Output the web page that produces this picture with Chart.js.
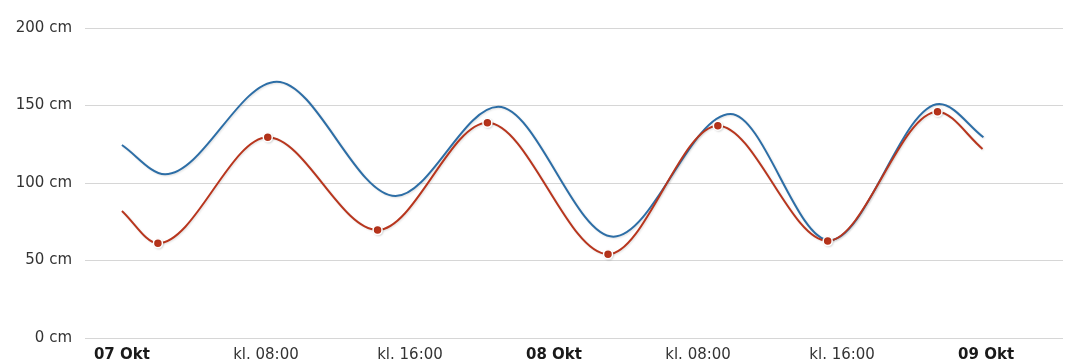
<!DOCTYPE html>
<html>
<head>
    <title>Vannstand</title>
    <script src="https://cdn.jsdelivr.net/npm/chart.js"></script>
    <style>
        html, body {
            margin: 0;
            padding: 0;
            background-color: #ffffff;
        }

        .chart-box {
            width: 1069px;
            height: 363px;
        }
    </style>
</head>
<body>
    <div class="chart-box">
        <canvas id="tideChart"></canvas>
    </div>

    <script>
        // hours counted from 07 Okt 00:00
        const tickHours = [0, 8, 16, 24, 32, 40, 48];
        const tickLabels = ['07 Okt', 'kl. 08:00', 'kl. 16:00', '08 Okt', 'kl. 08:00', 'kl. 16:00', '09 Okt'];
        const dayTicks = [0, 24, 48];

        // forecast (blue)
        const forecastHours = [0, 2.4, 8.6, 15.2, 20.9, 27.3, 33.8, 39.3, 45.4, 47.85];
        const forecastValues = [124.5, 105.6, 165.4, 91.6, 149.2, 65.4, 144.5, 63, 151, 129.5];

        // astronomical tide (red)
        const tideHours = [0, 2.0, 8.1, 14.2, 20.3, 27.0, 33.1, 39.2, 45.3, 47.8];
        const tideValues = [82, 61.1, 129.5, 69.7, 138.9, 54, 137, 62.6, 146, 122];

        // high / low water marks
        const extremeHours = [2.0, 8.1, 14.2, 20.3, 27.0, 33.1, 39.2, 45.3];
        const extremeValues = [61.1, 129.5, 69.7, 138.9, 54, 137, 62.6, 146];

        const toPoints = (xs, ys) => xs.map((x, i) => ({ x: x, y: ys[i] }));

        // soft drop shadow under the lines, like the original
        const lineShadow = {
            id: 'lineShadow',
            beforeDatasetDraw(chart) {
                const ctx = chart.ctx;
                ctx.save();
                ctx.shadowColor = 'rgba(0, 0, 0, 0.12)';
                ctx.shadowBlur = 2;
                ctx.shadowOffsetX = 1;
                ctx.shadowOffsetY = 1;
            },
            afterDatasetDraw(chart) {
                chart.ctx.restore();
            }
        };

        const fontFamily = '"DejaVu Sans", Verdana, sans-serif';

        new Chart(document.getElementById('tideChart'), {
            type: 'line',
            data: {
                datasets: [
                    {
                        label: 'Høy/lav',
                        data: toPoints(extremeHours, extremeValues),
                        showLine: false,
                        pointRadius: 4.5,
                        pointBackgroundColor: '#b8341b',
                        pointBorderColor: '#ffffff',
                        pointBorderWidth: 1.5,
                        order: 0
                    },
                    {
                        label: 'Astronomisk tidevann',
                        data: toPoints(tideHours, tideValues),
                        borderColor: '#b8361e',
                        borderWidth: 2,
                        pointRadius: 0,
                        cubicInterpolationMode: 'monotone',
                        order: 1
                    },
                    {
                        label: 'Prognose',
                        data: toPoints(forecastHours, forecastValues),
                        borderColor: '#2d6ea6',
                        borderWidth: 2,
                        pointRadius: 0,
                        cubicInterpolationMode: 'monotone',
                        order: 2
                    }
                ]
            },
            plugins: [lineShadow],
            options: {
                responsive: true,
                maintainAspectRatio: false,
                animation: false,
                events: [],
                layout: {
                    padding: { top: 28, right: 4, left: 0, bottom: 0 }
                },
                plugins: {
                    legend: { display: false },
                    tooltip: { enabled: false }
                },
                scales: {
                    x: {
                        type: 'linear',
                        min: -2.05,
                        max: 52.27,
                        grid: { display: false },
                        border: { display: false },
                        afterBuildTicks(scale) {
                            scale.ticks = tickHours.map(v => ({ value: v }));
                        },
                        afterFit(scale) {
                            scale.height = 25;
                        },
                        ticks: {
                            autoSkip: false,
                            maxRotation: 0,
                            padding: 0,
                            color: ctx => dayTicks.includes(ctx.tick.value) ? '#1a1a1a' : '#333333',
                            font: ctx => ({
                                family: fontFamily,
                                size: 15,
                                weight: ctx.tick && dayTicks.includes(ctx.tick.value) ? 'bold' : 'normal'
                            }),
                            callback: value => {
                                const i = tickHours.indexOf(value);
                                return i >= 0 ? tickLabels[i] : '';
                            }
                        }
                    },
                    y: {
                        min: 0,
                        max: 200,
                        grid: {
                            color: '#d6d6d6',
                            lineWidth: 1,
                            drawTicks: false
                        },
                        border: { display: false },
                        afterFit(scale) {
                            scale.width = 85;
                        },
                        ticks: {
                            stepSize: 50,
                            padding: 13,
                            color: '#333333',
                            font: { family: fontFamily, size: 15 },
                            callback: value => value + ' cm'
                        }
                    }
                }
            }
        });
    </script>
</body>
</html>
